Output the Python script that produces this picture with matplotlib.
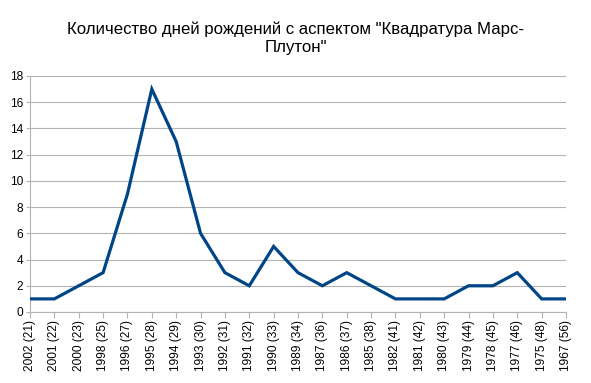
import matplotlib
matplotlib.use("Agg")
import matplotlib.pyplot as plt

# years (age) on the x axis, count of birthdays on y
labels = ["2002 (21)", "2001 (22)", "2000 (23)", "1998 (25)", "1996 (27)", "1995 (28)",
          "1994 (29)", "1993 (30)", "1992 (31)", "1991 (32)", "1990 (33)", "1989 (34)",
          "1987 (36)", "1986 (37)", "1985 (38)", "1982 (41)", "1981 (42)", "1980 (43)",
          "1979 (44)", "1978 (45)", "1977 (46)", "1975 (48)", "1967 (56)"]
counts = [1, 1, 2, 3, 9, 17, 13, 6, 3, 2, 5, 3, 2, 3, 2, 1, 1, 1, 2, 2, 3, 1, 1]
yticks = [0, 2, 4, 6, 8, 10, 12, 14, 16, 18]

plt.rcParams['font.family'] = ['Liberation Sans', 'DejaVu Sans']

fig = plt.figure(figsize=(5.91, 3.83), dpi=100)
ax = fig.add_axes([30 / 591, 1 - 312 / 383, 536 / 591, 236 / 383])

x = list(range(len(labels)))
ax.plot(x, counts, color='#004586', linewidth=2.3, solid_joinstyle='miter', zorder=3)

ax.set_xlim(0, len(labels) - 1)
ax.set_ylim(0, 18)
ax.set_yticks(yticks)
ax.set_xticks(x)
ax.set_xticklabels(labels, rotation=90, fontsize=8.6)
ax.tick_params(axis='y', labelsize=8.6, length=3, color='#b3b3b3', pad=2)
ax.tick_params(axis='x', length=4, color='#b3b3b3', pad=2)

ax.grid(axis='y', color='#b3b3b3', linewidth=0.8)
for side in ['top', 'right']:
    ax.spines[side].set_visible(False)
for side in ['left', 'bottom']:
    ax.spines[side].set_color('#b3b3b3')
    ax.spines[side].set_linewidth(0.8)

fig.text(0.5, 0.945, 'Количество дней рождений с аспектом "Квадратура Марс-\nПлутон"',
         ha='center', va='top', fontsize=12.1, linespacing=1.3)

fig.savefig('out.png', dpi=100)
